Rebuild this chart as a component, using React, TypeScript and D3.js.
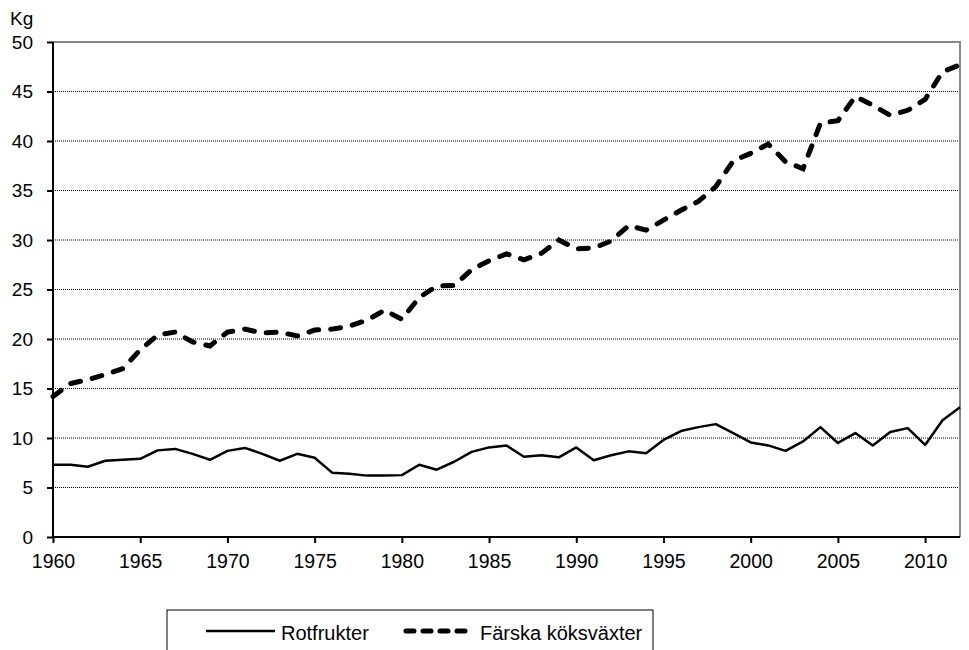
import React, { useEffect, useRef } from 'react';
import * as d3 from 'd3';

const years = d3.range(1960, 2013);

const rotfrukter = [
  7.3, 7.3, 7.1, 7.7, 7.8, 7.9, 8.75, 8.9, 8.4, 7.8,
  8.7, 9.0, 8.4, 7.7, 8.4, 8.0, 6.5, 6.4, 6.2, 6.2,
  6.25, 7.3, 6.8, 7.6, 8.6, 9.05, 9.25, 8.1, 8.25, 8.05,
  9.05, 7.75, 8.25, 8.65, 8.45, 9.8, 10.7, 11.1, 11.4, 10.5,
  9.55, 9.25, 8.7, 9.65, 11.1, 9.5, 10.5, 9.25, 10.6, 11.0,
  9.3, 11.8, 13.1,
];

const farska = [
  14.2, 15.5, 15.9, 16.4, 17.0, 18.9, 20.4, 20.7, 19.7, 19.3,
  20.7, 21.0, 20.6, 20.7, 20.3, 20.9, 21.0, 21.3, 21.9, 22.9,
  22.0, 24.2, 25.35, 25.4, 27.0, 27.9, 28.6, 28.0, 28.65, 30.0,
  29.1, 29.2, 29.9, 31.45, 31.0, 32.0, 33.0, 33.9, 35.4, 38.0,
  38.75, 39.7, 37.9, 37.2, 41.8, 42.05, 44.5, 43.6, 42.6, 43.1,
  44.2, 47.0, 47.7,
];

const yTicks = [0, 5, 10, 15, 20, 25, 30, 35, 40, 45, 50];
const xTicks = [1960, 1965, 1970, 1975, 1980, 1985, 1990, 1995, 2000, 2005, 2010];
const seriesNames = ['Rotfrukter', 'Färska köksväxter'];

const App: React.FC = () => {
  const svgRef = useRef<SVGSVGElement>(null);

  useEffect(() => {
    if (!svgRef.current) return;
    const svg = d3.select(svgRef.current);
    svg.selectAll('*').remove();

    const left = 53, right = 960, top = 42, bottom = 537;
    const font = '"Liberation Sans", Arial, sans-serif';

    const x = d3.scaleLinear().domain([1960, 2012]).range([left, right]);
    const y = d3.scaleLinear().domain([0, 50]).range([bottom, top]);

    // gridlines
    svg.append('g')
      .selectAll('line')
      .data(yTicks.filter(t => t > 0 && t < 50))
      .enter().append('line')
      .attr('x1', left).attr('x2', right)
      .attr('y1', d => y(d)).attr('y2', d => y(d))
      .attr('stroke', '#000')
      .attr('stroke-width', 1)
      .attr('stroke-dasharray', '1,1');

    // top and right frame
    svg.append('path')
      .attr('d', `M${left},${top}H${right}V${bottom}`)
      .attr('fill', 'none')
      .attr('stroke', '#888')
      .attr('stroke-width', 2);

    // y axis
    const yAxis = svg.append('g')
      .attr('transform', `translate(${left},0)`)
      .call(d3.axisLeft(y).tickValues(yTicks).tickSize(6).tickPadding(14).tickFormat(d3.format('d')));
    yAxis.select('.domain').attr('stroke-width', 2).attr('d', `M0,${top}V${bottom}`);
    yAxis.selectAll('.tick line').attr('stroke-width', 2);
    yAxis.selectAll('text').attr('font-family', font).attr('font-size', 19).attr('fill', '#000');

    // x axis
    const xAxis = svg.append('g')
      .attr('transform', `translate(0,${bottom})`)
      .call(d3.axisBottom(x).tickValues(xTicks).tickSize(6).tickPadding(11).tickFormat(d3.format('d')));
    xAxis.select('.domain').attr('stroke-width', 2).attr('d', `M${left},0H${right}`);
    xAxis.selectAll('.tick line').attr('stroke-width', 2);
    xAxis.selectAll('text').attr('font-family', font).attr('font-size', 19.5).attr('fill', '#000');

    svg.append('text')
      .attr('x', 10).attr('y', 25)
      .attr('font-family', font).attr('font-size', 19)
      .text('Kg');

    const line = d3.line<number>()
      .x((_, i) => x(years[i]))
      .y(d => y(d));

    svg.append('path')
      .datum(rotfrukter)
      .attr('d', line)
      .attr('fill', 'none')
      .attr('stroke', '#000')
      .attr('stroke-width', 2.5)
      .attr('stroke-linejoin', 'round');

    svg.append('path')
      .datum(farska)
      .attr('d', line)
      .attr('fill', 'none')
      .attr('stroke', '#000')
      .attr('stroke-width', 5)
      .attr('stroke-linecap', 'round')
      .attr('stroke-dasharray', '10,12');

    // legend
    const lg = svg.append('g');
    lg.append('rect')
      .attr('x', 167).attr('y', 610)
      .attr('width', 486).attr('height', 60)
      .attr('fill', '#fff')
      .attr('stroke', '#000')
      .attr('stroke-width', 1);

    lg.append('line')
      .attr('x1', 206).attr('x2', 275)
      .attr('y1', 631).attr('y2', 631)
      .attr('stroke', '#000').attr('stroke-width', 2.5);
    lg.append('text')
      .attr('x', 281).attr('y', 640)
      .attr('font-family', font).attr('font-size', 20)
      .text(seriesNames[0]);

    lg.append('line')
      .attr('x1', 406).attr('x2', 471)
      .attr('y1', 631).attr('y2', 631)
      .attr('stroke', '#000').attr('stroke-width', 5)
      .attr('stroke-linecap', 'round')
      .attr('stroke-dasharray', '8,9');
    lg.append('text')
      .attr('x', 480).attr('y', 640)
      .attr('font-family', font).attr('font-size', 20)
      .text(seriesNames[1]);
  }, []);

  return (
    <svg
      ref={svgRef}
      width={969}
      height={650}
      style={{ position: 'absolute', left: 0, top: 0, background: '#fff' }}
    />
  );
};

export default App;
